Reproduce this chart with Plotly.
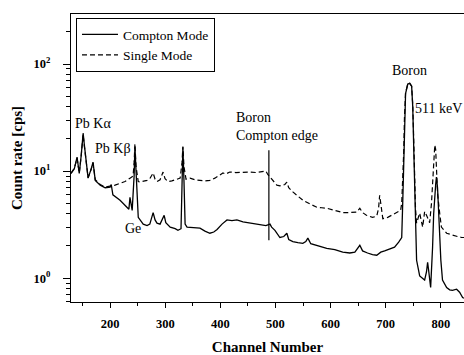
import plotly.graph_objects as go

# Compton mode (solid) spectrum: channel, count rate [cps]
compton_ch = [129, 135, 140, 144, 147.5, 151, 153, 156.5, 160, 165.6, 169, 173, 182, 191, 200,
              202, 205, 218, 231, 234, 236, 240, 243.5, 245, 247, 251, 260, 267, 272, 278, 281.5,
              285, 290.6, 298, 301, 309, 318, 323, 328.6, 330, 332, 334, 336, 339.5, 350, 363,
              372, 381, 388, 394, 403, 412, 421, 430, 441, 453.6, 464.5, 475, 482.6, 490, 493,
              499, 508, 515, 520.6, 524, 531.5, 540.6, 549.6, 555, 558.7, 564, 575, 584, 593,
              607.6, 622, 634.8, 644, 653, 658, 667, 676, 683.7, 691, 698, 707, 716, 723.5, 729,
              730.8, 732.6, 734, 736, 740, 743.5, 747, 749, 751, 752.5, 754, 756, 761.6, 767,
              770.6, 774, 776, 777.7, 781.5, 785, 787, 790.6, 792, 794, 796, 798, 800, 803,
              810.5, 816, 821, 828.6, 834, 839.5, 842]
compton_val = [9.5, 10.5, 13.5, 9.5, 14, 22.6, 18, 11.9, 8.6, 10.5, 12.1, 8.2, 7.4, 7.0, 7.1,
               7.5, 6.0, 5.35, 4.6, 4.4, 5.7, 4.3, 9, 17, 10, 3.7, 3.2, 3.1, 3.2, 4.1, 3.5,
               3.27, 3.2, 3.87, 3.3, 3.0, 2.9, 2.8, 2.9, 8, 16.7, 8, 3.2, 3.0, 2.95, 2.93,
               2.75, 2.63, 2.7, 2.85, 3.2, 3.5, 3.45, 3.5, 3.35, 3.27, 3.2, 3.13, 3.1, 3.2, 3.0,
               2.8, 2.4, 2.45, 2.63, 2.3, 2.2, 2.15, 2.12, 2.2, 2.37, 2.1, 2.03, 1.98, 1.9,
               1.85, 1.75, 1.72, 1.75, 2.03, 1.8, 1.72, 1.66, 1.64, 1.75, 1.8, 1.86, 1.95, 2.17, 2.4,
               5, 12.6, 30, 53, 65, 66, 62, 40, 15, 6.2, 2.5, 1.47, 1.05, 1.0,
               0.96, 1.15, 1.41, 1.2, 0.82, 1.95, 4, 7.5, 8.8, 7, 4.3, 2.2, 1.47, 0.96,
               0.82, 0.78, 0.77, 0.79, 0.74, 0.66, 0.65]

# Single mode (dashed) spectrum
single_ch = [129, 135, 140, 144, 147.5, 151, 153, 156.5, 160, 165.6, 169, 173, 182, 191, 200,
             203.6, 209, 218, 227, 236, 241.6, 243.5, 245, 247, 251, 254, 261.6, 267, 272, 278,
             281.5, 285, 290.6, 296, 299.6, 305, 312, 319.6, 327, 330.4, 332, 334, 337.7, 345,
             354, 363, 372, 381, 390, 399, 404.7, 410, 417, 428, 439, 453.6, 464.5, 477, 482.6,
             486, 490, 497, 502.5, 508, 517, 520.6, 524, 531.5, 540.6, 549.6, 562, 575, 584,
             593, 607.6, 622, 634.8, 647.5, 653, 658, 665, 676, 683.7, 687, 689, 691, 694.7,
             703.6, 712.7, 721.7, 727, 729, 730.8, 732.6, 734, 736, 740, 743.5, 747, 749, 751,
             752.5, 754, 756, 761.6, 767, 770.6, 774, 779.7, 783, 787, 789, 790.6, 792, 794,
             798, 801, 810.5, 821, 830, 837.7, 842]
single_val = [9.6, 10.6, 13.2, 9.6, 14, 22, 17.5, 11.7, 8.7, 10.4, 12.0, 8.3, 7.5, 7.1, 7.2,
              7.3, 7.4, 7.7, 8.0, 8.6, 9, 12, 18, 11, 8, 7.9, 8.0, 8.2, 8.5, 9.6,
              8.4, 8.0, 8.3, 9.8, 8.5, 8.0, 8.1, 8.4, 8.6, 12, 17, 11, 8.4, 8.6,
              8.3, 8.2, 8.1, 8.2, 8.6, 9.2, 9.6, 9.4, 9.8, 9.7, 9.8, 9.8, 9.7, 9.8, 10.0,
              9.3, 8.8, 8.0, 7.4, 7.3, 7.5, 7.9, 7.0, 6.4, 5.8, 5.35, 4.95, 4.6, 4.55,
              4.5, 4.3, 4.1, 4.1, 4.15, 4.5, 4.1, 3.87, 3.7, 3.8, 4.5, 5.95, 4.8, 3.6,
              3.7, 3.9, 4.1, 4.3, 5, 8, 15, 32, 54, 65, 66, 62, 42, 18,
              8, 4.5, 3.27, 4.05, 3.0, 4.2, 3.87, 3.3, 5, 12, 17.5, 16, 12, 6.2,
              4.0, 3.0, 2.63, 2.52, 2.45, 2.4, 2.4]

# Boron Compton edge marker
edge_ch = [488, 488]
edge_val = [15.7, 2.26]

y_tickvals = [1, 10, 100]
y_ticktext = ["10<sup>0</sup>", "10<sup>1</sup>", "10<sup>2</sup>"]
y_minor = [0.6, 0.7, 0.8, 0.9, 2, 3, 4, 5, 6, 7, 8, 9, 20, 30, 40, 50, 60, 70, 80, 90, 200, 300]

FONT = "Liberation Serif"

fig = go.Figure()
fig.add_trace(go.Scatter(x=single_ch, y=single_val, mode="lines", name="Single Mode",
                         line=dict(color="black", width=1.2, dash="5px,3px"), legendrank=2))
fig.add_trace(go.Scatter(x=compton_ch, y=compton_val, mode="lines", name="Compton Mode",
                         line=dict(color="black", width=1.3), legendrank=1))
fig.add_trace(go.Scatter(x=edge_ch, y=edge_val, mode="lines", showlegend=False,
                         line=dict(color="black", width=1.2)))

annots = [
    ("Pb Kα", 133, 1.449, 14),
    ("Pb Kβ", 169, 1.215, 14),
    ("Ge", 223.6, 0.467, 14),
    ("Boron<br>Compton edge", 424.6, 1.416, 14),
    ("Boron", 707, 1.944, 14),
    ("511 keV", 750.0, 1.589, 14),
]
for text, ax_, ay_, sz in annots:
    fig.add_annotation(x=ax_, y=ay_, xref="x", yref="y", text=text, showarrow=False,
                       xanchor="left", yanchor="middle", align="left",
                       font=dict(family=FONT, size=sz, color="black"))

fig.update_layout(
    width=464, height=355,
    margin=dict(l=71, r=0, t=14, b=53),
    paper_bgcolor="white", plot_bgcolor="white",
    font=dict(family=FONT, color="black"),
    showlegend=True,
    legend=dict(x=0.0127, y=0.986, xanchor="left", yanchor="top",
                bgcolor="white", bordercolor="black", borderwidth=1,
                font=dict(family=FONT, size=13.5), itemwidth=36,
                tracegroupgap=0),
)
fig.update_xaxes(
    range=[129, 842], showgrid=False, zeroline=False,
    showline=True, linecolor="black", linewidth=1.2, mirror=True,
    ticks="outside", ticklen=5, tickcolor="black", dtick=100, tick0=0,
    tickfont=dict(family=FONT, size=12.5, weight="bold"),
    ticklabelstandoff=5,
    minor=dict(dtick=50, tick0=0, ticks="outside", ticklen=3, tickcolor="black"),
    title=dict(text="Channel Number", font=dict(family=FONT, size=15, weight="bold"), standoff=13),
)
fig.update_yaxes(
    type="log", range=[-0.222, 2.467], showgrid=False, zeroline=False,
    showline=True, linecolor="black", linewidth=1.2,
    ticks="outside", ticklen=7, tickcolor="black",
    tickmode="array", tickvals=y_tickvals, ticktext=y_ticktext,
    tickfont=dict(family=FONT, size=12.5, weight="bold"),
    ticklabelstandoff=10,
    minor=dict(tickmode="array", tickvals=y_minor, ticks="outside", ticklen=4, tickcolor="black"),
    title=dict(text="Count rate [cps]", font=dict(family=FONT, size=15, weight="bold"), standoff=7),
)

fig.write_html("out.html")
